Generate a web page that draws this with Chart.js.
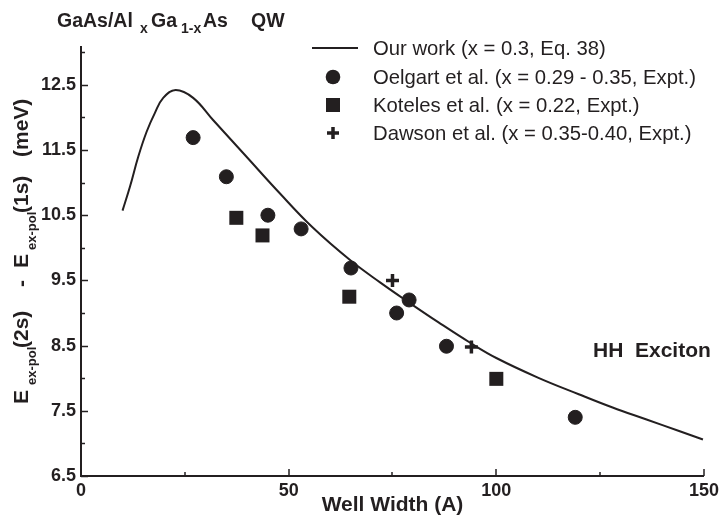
<!DOCTYPE html>
<html>
<head>
<meta charset="utf-8">
<script src="https://cdn.jsdelivr.net/npm/chart.js@4/dist/chart.umd.min.js"></script>
<style>
html,body{margin:0;padding:0;background:#fff;}
#wrap{width:723px;height:519px;position:relative;}
</style>
</head>
<body>
<div id="wrap"><canvas id="c" width="723" height="519"></canvas></div>
<script>
// ---- data ----
const curveWidth  = [10, 11.8, 13.8, 15.8, 17.8, 19.8, 22.8, 27, 31.8, 39.8, 47.8, 55.8, 65, 72, 79, 86, 93.8, 100, 110, 120, 128, 136, 144, 149.75];
const curveEnergy = [10.57, 10.94, 11.40, 11.78, 12.07, 12.30, 12.42, 12.30, 11.96, 11.40, 10.84, 10.31, 9.80, 9.47, 9.16, 8.86, 8.54, 8.31, 8.01, 7.75, 7.55, 7.37, 7.19, 7.06];

const oelgartWidth  = [27, 35, 45, 53, 65, 76, 79, 88, 119];
const oelgartEnergy = [11.69, 11.09, 10.50, 10.29, 9.69, 9.00, 9.20, 8.49, 7.40];

const kotelesWidth  = [37.4, 43.7, 64.6, 100];
const kotelesEnergy = [10.46, 10.19, 9.25, 7.99];

const dawsonWidth  = [75, 94];
const dawsonEnergy = [9.50, 8.48];

const seriesLabels = [
  'Our work (x = 0.3, Eq. 38)',
  'Oelgart et al. (x = 0.29 - 0.35, Expt.)',
  'Koteles et al. (x = 0.22, Expt.)',
  'Dawson et al. (x = 0.35-0.40, Expt.)'
];

const xLabelTicks = [0, 50, 100, 150];
const xMinorTicks = [25, 75, 125];
const yLabelTicks = [6.5, 7.5, 8.5, 9.5, 10.5, 11.5, 12.5];
const yMinorTicks = [7, 8, 9, 10, 11, 12, 13];

const annotationText = 'HH  Exciton';
const xAxisTitle = 'Well Width (A)';

// ---- styling ----
const INK = '#231f20';
const FAM = "'Liberation Sans', Arial, Helvetica, sans-serif";

const pts = (xs, ys) => xs.map((x, i) => ({x: x, y: ys[i]}));

const decorPlugin = {
  id: 'decor',
  afterDraw(chart) {
    const ctx = chart.ctx;
    const xs = chart.scales.x, ys = chart.scales.y;
    const ca = chart.chartArea;
    ctx.save();
    ctx.strokeStyle = INK;
    ctx.fillStyle = INK;
    ctx.lineWidth = 1.5;
    // inward tick marks
    const yt = (v, len) => {
      const p = Math.round(ys.getPixelForValue(v)) + 0.5;
      ctx.beginPath(); ctx.moveTo(ca.left, p); ctx.lineTo(ca.left + len, p); ctx.stroke();
    };
    const xt = (v, len) => {
      const p = Math.round(xs.getPixelForValue(v));
      ctx.beginPath(); ctx.moveTo(p, ca.bottom); ctx.lineTo(p, ca.bottom - len); ctx.stroke();
    };
    yLabelTicks.forEach(v => yt(v, 7));
    yMinorTicks.forEach(v => yt(v, 4));
    xLabelTicks.forEach(v => xt(v, 7));
    xMinorTicks.forEach(v => xt(v, 4));

    // title with subscripts
    const main = 'bold 19.5px ' + FAM, sub = 'bold 14px ' + FAM;
    const pieces = [
      ['GaAs/Al', main, 57, 0], ['x', sub, 140, 6], ['Ga', main, 151, 0], ['1-x', sub, 181, 6], ['As', main, 203, 0], ['QW', main, 251, 0]
    ];
    ctx.textBaseline = 'alphabetic';
    ctx.textAlign = 'left';
    pieces.forEach(([t, f, x, dy]) => { ctx.font = f; ctx.fillText(t, x, 27 + dy); });

    // rotated y-axis title
    ctx.save();
    ctx.translate(28, 404);
    ctx.rotate(-Math.PI / 2);
    const ym = 'bold 21px ' + FAM, ysub = 'bold 13px ' + FAM;
    const yp = [
      ['E', ym, 0, 0], ['ex-pol', ysub, 19, 7.5], ['(2s)', ym, 56, 0], ['-', ym, 117, 0],
      ['E', ym, 136, 0], ['ex-pol', ysub, 154, 7.5], ['(1s)', ym, 191, 0], ['(meV)', ym, 247, 0]
    ];
    yp.forEach(([t, f, off, dy]) => { ctx.font = f; ctx.fillText(t, off, dy); });
    ctx.restore();

    // legend
    const lx = 333, textX = 373, rows = [48, 77, 105, 133];
    ctx.lineWidth = 2;
    ctx.beginPath(); ctx.moveTo(312, rows[0]); ctx.lineTo(358, rows[0]); ctx.stroke();
    ctx.beginPath(); ctx.arc(lx, rows[1], 7.3, 0, Math.PI * 2); ctx.fill();
    ctx.fillRect(lx - 7, rows[2] - 7, 14, 14);
    ctx.lineWidth = 3.5;
    ctx.beginPath();
    ctx.moveTo(lx - 6, rows[3]); ctx.lineTo(lx + 6, rows[3]);
    ctx.moveTo(lx, rows[3] - 6); ctx.lineTo(lx, rows[3] + 6);
    ctx.stroke();
    ctx.font = '20.3px ' + FAM;
    ctx.textBaseline = 'middle';
    seriesLabels.forEach((t, i) => ctx.fillText(t, textX, rows[i] + 1));

    // annotation
    ctx.font = 'bold 21px ' + FAM;
    ctx.fillText(annotationText, 593, 351);
    ctx.restore();
  }
};

new Chart(document.getElementById('c'), {
  type: 'scatter',
  data: {
    datasets: [
      {
        type: 'line',
        label: seriesLabels[0],
        data: pts(curveWidth, curveEnergy),
        borderColor: INK,
        borderWidth: 2,
        pointRadius: 0,
        fill: false,
        tension: 0.4
      },
      {
        label: seriesLabels[1],
        data: pts(oelgartWidth, oelgartEnergy),
        pointStyle: 'circle',
        pointRadius: 7,
        borderWidth: 1,
        backgroundColor: INK,
        borderColor: INK
      },
      {
        label: seriesLabels[2],
        data: pts(kotelesWidth, kotelesEnergy),
        pointStyle: 'rect',
        pointRadius: 9.9,
        borderWidth: 0,
        backgroundColor: INK,
        borderColor: INK
      },
      {
        label: seriesLabels[3],
        data: pts(dawsonWidth, dawsonEnergy),
        pointStyle: 'cross',
        pointRadius: 6.5,
        borderWidth: 3.5,
        backgroundColor: INK,
        borderColor: INK
      }
    ]
  },
  options: {
    responsive: false,
    animation: false,
    events: [],
    layout: { padding: { left: 0, right: 17, top: 47, bottom: 0 } },
    plugins: { legend: { display: false }, tooltip: { enabled: false }, title: { display: false } },
    scales: {
      x: {
        type: 'linear',
        min: 0, max: 150,
        afterBuildTicks: s => { s.ticks = xLabelTicks.map(v => ({value: v})); },
        afterFit: s => { s.height = 43; },
        grid: { display: false, drawTicks: false },
        border: { display: true, color: INK, width: 2 },
        ticks: { color: INK, font: { family: FAM, size: 18, weight: 'bold' }, padding: 4, maxRotation: 0, autoSkip: false,
                  callback: v => String(v) },
        title: { display: true, text: xAxisTitle, color: INK, font: { family: FAM, size: 21, weight: 'bold' }, padding: { top: 0, bottom: 1 } }
      },
      y: {
        type: 'linear',
        min: 6.5, max: 13.08,
        afterBuildTicks: s => { s.ticks = yLabelTicks.map(v => ({value: v})); },
        afterFit: s => { s.width = 81; },
        grid: { display: false, drawTicks: false },
        border: { display: true, color: INK, width: 2 },
        ticks: { color: INK, font: { family: FAM, size: 18, weight: 'bold' }, padding: 5, autoSkip: false,
                 callback: v => Number(v).toFixed(1) }
      }
    }
  },
  plugins: [decorPlugin]
});
</script>
</body>
</html>
